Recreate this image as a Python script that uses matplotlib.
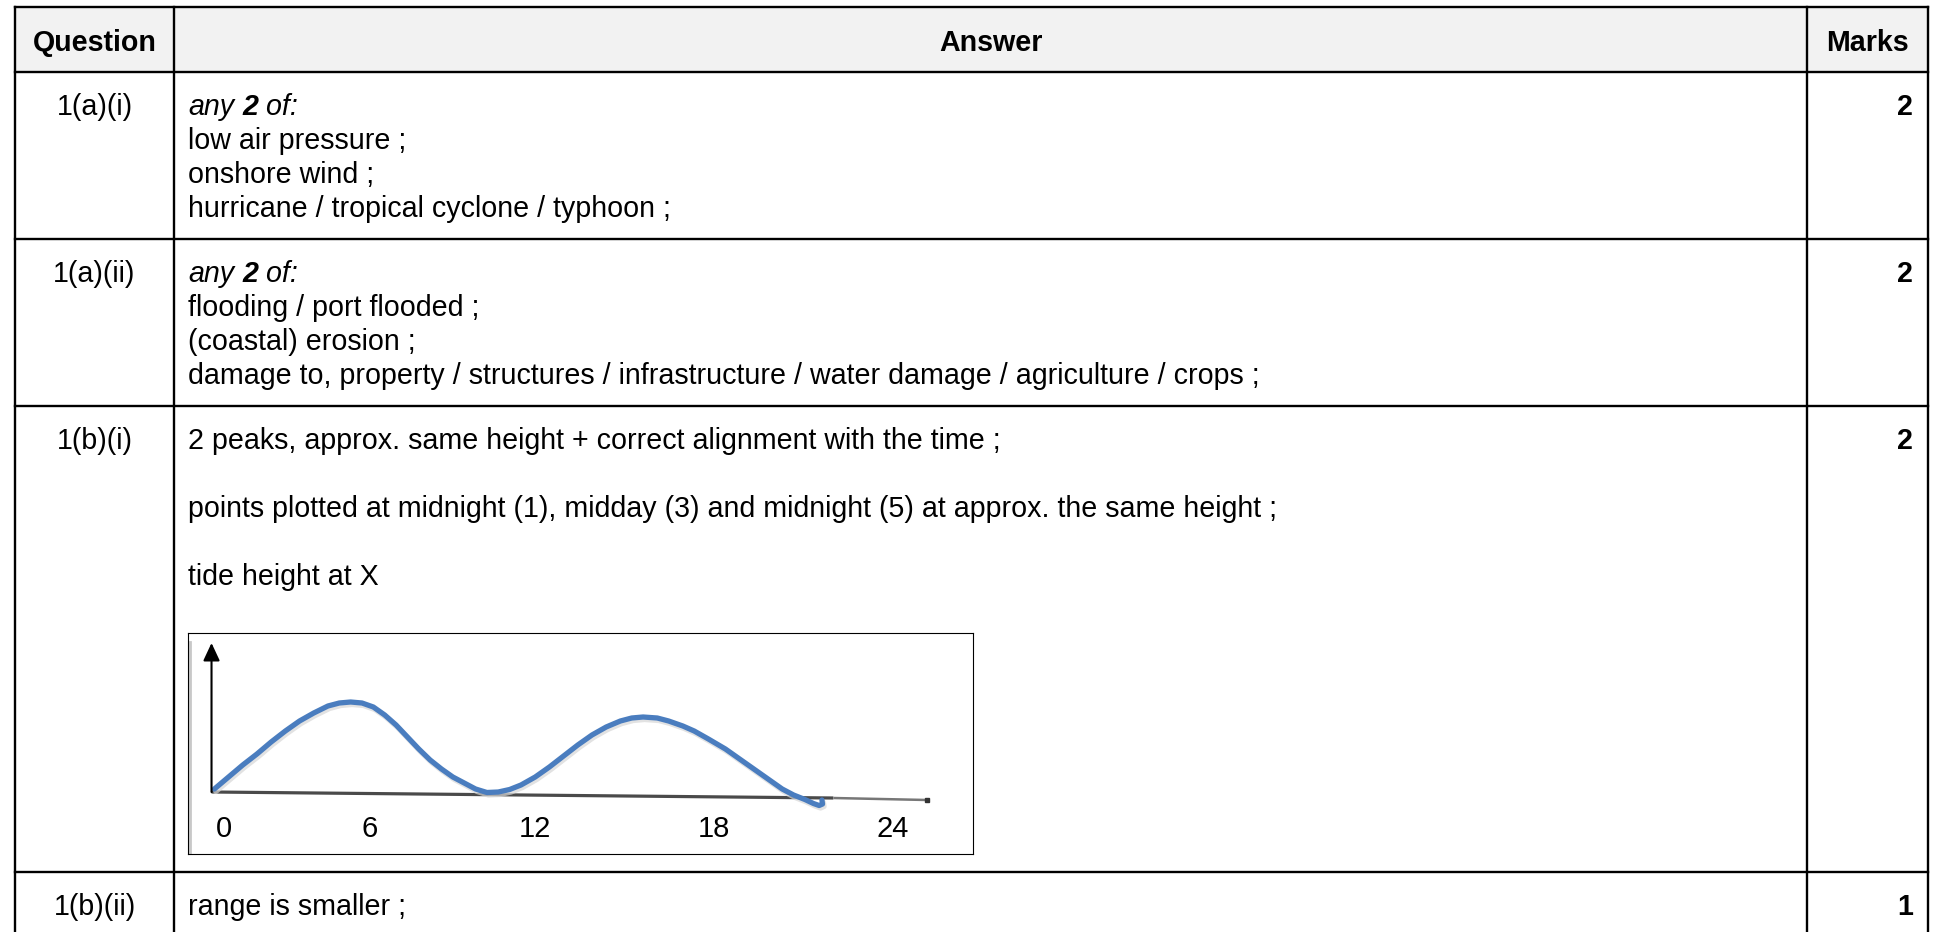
import matplotlib.pyplot as plt
from matplotlib.patches import Rectangle
from matplotlib.transforms import offset_copy

plt.rcParams['font.family'] = ['Liberation Sans', 'DejaVu Sans']

# --- table content ---
headers = ['Question', 'Answer', 'Marks']
questions = ['1(a)(i)', '1(a)(ii)', '1(b)(i)', '1(b)(ii)']
marks = ['2', '2', '2', '1']
any_two = [('any', 'italic', 'normal'), (' 2', 'italic', 'bold'), (' of:', 'italic', 'normal')]
answers = [
    [any_two, 'low air pressure ;', 'onshore wind ;', 'hurricane / tropical cyclone / typhoon ;'],
    [any_two, 'flooding / port flooded ;', '(coastal) erosion ;',
     'damage to, property / structures / infrastructure / water damage / agriculture / crops ;'],
    ['2 peaks, approx. same height + correct alignment with the time ;', '',
     'points plotted at midnight (1), midday (3) and midnight (5) at approx. the same height ;', '',
     'tide height at X'],
    ['range is smaller ;'],
]

# --- tide sketch (hours vs height above the axis) ---
hours = [0.1, 0.6, 1.1, 1.6, 2.1, 2.6, 3.1, 3.6, 4.1, 4.5, 4.9, 5.3, 5.7, 6.1, 6.5,
         6.9, 7.3, 7.7, 8.1, 8.5, 8.9, 9.3, 9.7, 10.1, 10.5, 10.9, 11.4, 11.9, 12.4,
         12.9, 13.4, 13.9, 14.4, 14.8, 15.2, 15.7, 16.1, 16.6, 17.0, 17.5, 18.1, 18.6,
         19.2, 19.6, 20.1, 20.5, 20.9, 21.2, 21.4, 21.52, 21.5]
heights = [0.4, 1.6, 2.8, 3.9, 5.1, 6.2, 7.2, 8.0, 8.7, 9.0, 9.1, 9.0, 8.6, 7.8, 6.8,
           5.6, 4.4, 3.3, 2.4, 1.6, 1.0, 0.4, 0.05, 0.1, 0.35, 0.8, 1.6, 2.6, 3.7,
           4.8, 5.8, 6.6, 7.2, 7.5, 7.6, 7.5, 7.2, 6.7, 6.2, 5.4, 4.4, 3.4,
           2.2, 1.4, 0.4, -0.2, -0.65, -1.05, -1.25, -1.1, -0.7]
tick_pos = [0.42, 5.57, 11.38, 17.69, 24.0]
tick_labels = ['0', '6', '12', '18', '24']

W, H = 1934, 932
FS = 20.6
col_edges = [15, 174, 1807, 1927.5]
row_edges = [7.3, 72.3, 239, 406, 872]

fig = plt.figure(figsize=(W / 100, H / 100), dpi=100)
ax = fig.add_axes([0, 0, 1, 1])
ax.set_xlim(0, W)
ax.set_ylim(H, 0)
ax.axis('off')

# header shading + grid
ax.add_patch(Rectangle((col_edges[0], row_edges[0]), col_edges[-1] - col_edges[0],
                       row_edges[1] - row_edges[0], color='#f2f2f2', zorder=0))
for y in row_edges:
    ax.plot([col_edges[0], col_edges[-1]], [y, y], color='black', lw=1.7, solid_capstyle='projecting')
for x in col_edges:
    ax.plot([x, x], [row_edges[0], H], color='black', lw=1.7, solid_capstyle='projecting')

# header text
centers = [(col_edges[i] + col_edges[i + 1]) / 2 for i in range(3)]
for cx, h in zip(centers, headers):
    ax.text(cx, 51, h, fontsize=FS, weight='bold', ha='center', va='baseline')


def rich_line(x, y, parts):
    prev = None
    for txt, style, weight in parts:
        if prev is None:
            prev = ax.text(x, y, txt, fontsize=FS, style=style, weight=weight,
                           ha='left', va='baseline')
        else:
            prev = ax.annotate(txt, xy=(1, 0), xycoords=prev, fontsize=FS, style=style,
                               weight=weight, ha='left', va='bottom')


line_gap = 34
for i, (q, m, lines) in enumerate(zip(questions, marks, answers)):
    base = row_edges[i + 1] + 43
    ax.text(centers[0], base, q, fontsize=FS, ha='center', va='baseline')
    ax.text(1913, base, m, fontsize=FS, weight='bold', ha='right', va='baseline')
    for j, line in enumerate(lines):
        if isinstance(line, list):
            rich_line(188.5, base + j * line_gap, line)
        elif line:
            ax.text(188.5, base + j * line_gap, line, fontsize=FS, ha='left', va='baseline')

# --- inset sketch ---
box = (187.5, 633, 973, 854)   # left, top, right, bottom in pixels
ins = fig.add_axes([box[0] / W, 1 - box[3] / H, (box[2] - box[0]) / W, (box[3] - box[1]) / H])
ins.set_xlim(-0.846, 26.82)
ins.set_ylim(-6.1, 16.0)
ins.set_xticks([])
ins.set_yticks([])
for s in ins.spines.values():
    s.set_linewidth(0.8)
    s.set_color('black')

ins.plot([-0.77, -0.77], [-6.1, 15.1], color='#c8c8c8', lw=2)

# axes of the sketch
ins.plot([0, 21.9], [0.1, -0.5], color='#4a4a4a', lw=2.3, solid_capstyle='butt')
ins.plot([21.9, 25.2], [-0.5, -0.7], color='#777777', lw=1.8, solid_capstyle='butt')
ins.plot([25.2], [-0.7], marker='s', ms=3, color='#333333')
ins.annotate('', xy=(0, 15.0), xytext=(0, 0.1),
             arrowprops=dict(arrowstyle='-|>,head_length=0.9,head_width=0.42',
                             mutation_scale=12, color='black', lw=1.5, shrinkA=0, shrinkB=0))

shadow = offset_copy(ins.transData, fig=fig, x=1.5, y=-2.5, units='dots')
ins.plot(hours, heights, color='#d6d6d6', lw=3.8, transform=shadow,
         solid_joinstyle='round', solid_capstyle='round', alpha=0.7)
ins.plot(hours, heights, color='#4a7dbf', lw=3.8, solid_joinstyle='round', solid_capstyle='round')

for p, lab in zip(tick_pos, tick_labels):
    ins.text(p, -3.6, lab, fontsize=21, ha='center', va='center')

fig.savefig('out.png', dpi=100)
